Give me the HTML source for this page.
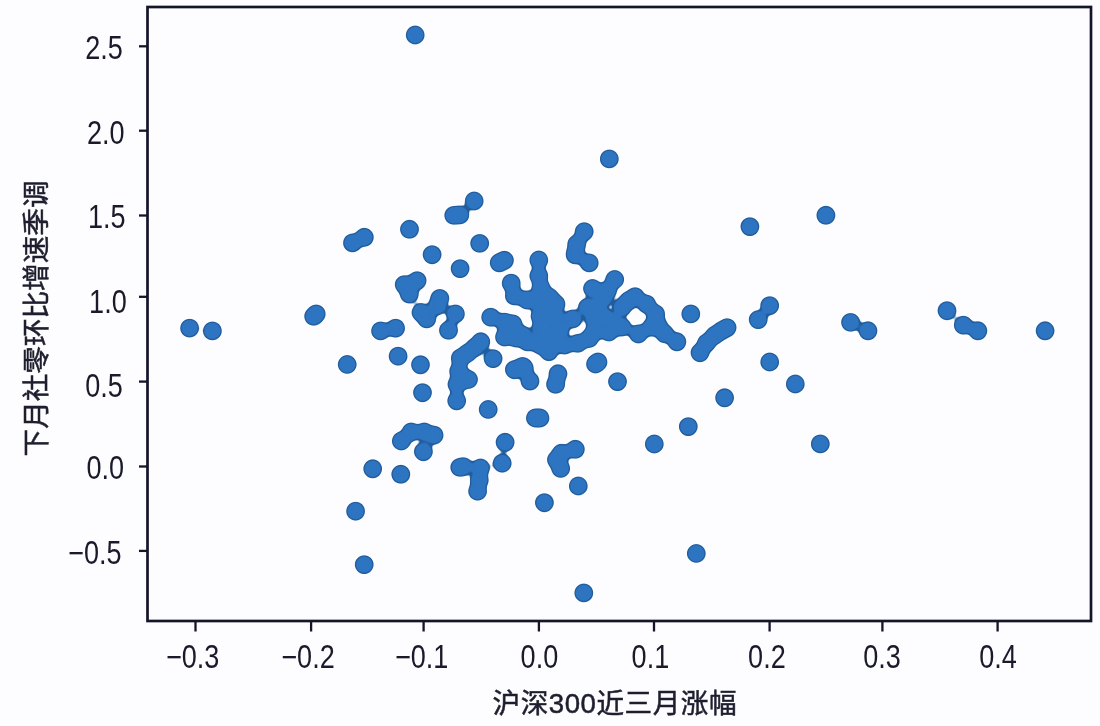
<!DOCTYPE html>
<html lang="zh"><head><meta charset="utf-8"><title>scatter</title>
<style>
html,body{margin:0;padding:0;background:#fdfdff;}
body{width:1100px;height:726px;overflow:hidden;}
svg{display:block}
.t text{font-family:"Liberation Sans","Noto Sans CJK SC",sans-serif;font-size:32.6px;fill:#1a1a2a;}
.l{font-family:"Liberation Sans","Noto Sans CJK SC",sans-serif;font-size:27.6px;fill:#1e1e2e;stroke:#1e1e2e;stroke-width:0.5px;}
</style></head><body>
<svg width="1100" height="726" viewBox="0 0 1100 726">
<rect width="1100" height="726" fill="#fdfdff"/>
<defs><filter id="goo" x="0" y="0" width="1100" height="726" filterUnits="userSpaceOnUse" color-interpolation-filters="sRGB"><feGaussianBlur stdDeviation="2.2"/><feComponentTransfer><feFuncA type="linear" slope="6" intercept="-2.5"/></feComponentTransfer></filter></defs>
<g fill="#215d9d" filter="url(#goo)"><circle cx="415.2" cy="35.0" r="9.7"/><circle cx="609.3" cy="158.9" r="9.7"/><circle cx="474.2" cy="201.0" r="9.7"/><circle cx="453.8" cy="215.4" r="9.7"/><circle cx="459.8" cy="214.9" r="9.7"/><circle cx="409.5" cy="229.3" r="9.7"/><circle cx="479.7" cy="243.4" r="9.7"/><circle cx="432.1" cy="254.7" r="9.7"/><circle cx="460.1" cy="268.6" r="9.7"/><circle cx="499.2" cy="262.8" r="9.7"/><circle cx="504.4" cy="260.3" r="9.7"/><circle cx="538.8" cy="260.0" r="9.7"/><circle cx="538.8" cy="275.8" r="9.7"/><circle cx="584.2" cy="231.6" r="9.7"/><circle cx="576.7" cy="244.1" r="9.7"/><circle cx="575.4" cy="252.9" r="9.7"/><circle cx="589.2" cy="262.9" r="9.7"/><circle cx="614.7" cy="279.5" r="9.7"/><circle cx="352.5" cy="242.9" r="9.7"/><circle cx="364.3" cy="237.3" r="9.7"/><circle cx="749.9" cy="226.6" r="9.7"/><circle cx="825.9" cy="215.3" r="9.7"/><circle cx="189.6" cy="328.1" r="9.7"/><circle cx="212.4" cy="330.9" r="9.7"/><circle cx="313.7" cy="316.4" r="9.7"/><circle cx="316.2" cy="313.9" r="9.7"/><circle cx="347.2" cy="364.5" r="9.7"/><circle cx="380.6" cy="330.9" r="9.7"/><circle cx="395.6" cy="328.2" r="9.7"/><circle cx="398.1" cy="356.2" r="9.7"/><circle cx="420.5" cy="364.8" r="9.7"/><circle cx="422.5" cy="392.7" r="9.7"/><circle cx="404.2" cy="284.6" r="9.7"/><circle cx="417.1" cy="280.6" r="9.7"/><circle cx="409.3" cy="294.1" r="9.7"/><circle cx="421.0" cy="312.5" r="9.7"/><circle cx="426.7" cy="318.9" r="9.7"/><circle cx="439.8" cy="298.4" r="9.7"/><circle cx="437.4" cy="305.7" r="9.7"/><circle cx="455.4" cy="313.9" r="9.7"/><circle cx="448.5" cy="330.3" r="9.7"/><circle cx="511.2" cy="283.2" r="9.7"/><circle cx="514.4" cy="295.9" r="9.7"/><circle cx="490.7" cy="317.2" r="9.7"/><circle cx="504.6" cy="322.1" r="9.7"/><circle cx="511.1" cy="332.0" r="9.7"/><circle cx="480.8" cy="341.8" r="9.7"/><circle cx="474.6" cy="347.6" r="9.7"/><circle cx="467.0" cy="353.5" r="9.7"/><circle cx="493.1" cy="358.6" r="9.7"/><circle cx="522.6" cy="366.4" r="9.7"/><circle cx="575.2" cy="254.9" r="9.7"/><circle cx="592.5" cy="288.5" r="9.7"/><circle cx="690.8" cy="313.9" r="9.7"/><circle cx="676.9" cy="341.8" r="9.7"/><circle cx="635.1" cy="296.7" r="9.7"/><circle cx="646.6" cy="304.1" r="9.7"/><circle cx="655.6" cy="313.9" r="9.7"/><circle cx="658.0" cy="325.4" r="9.7"/><circle cx="664.6" cy="333.6" r="9.7"/><circle cx="460.3" cy="358.2" r="9.7"/><circle cx="458.7" cy="371.3" r="9.7"/><circle cx="468.5" cy="379.5" r="9.7"/><circle cx="457.0" cy="384.4" r="9.7"/><circle cx="456.7" cy="400.8" r="9.7"/><circle cx="514.4" cy="369.7" r="9.7"/><circle cx="524.3" cy="368.0" r="9.7"/><circle cx="530.0" cy="381.1" r="9.7"/><circle cx="488.2" cy="409.5" r="9.7"/><circle cx="535.4" cy="418.0" r="9.7"/><circle cx="540.0" cy="418.0" r="9.7"/><circle cx="505.1" cy="442.3" r="9.7"/><circle cx="502.2" cy="463.2" r="9.7"/><circle cx="401.3" cy="441.0" r="9.7"/><circle cx="411.1" cy="432.0" r="9.7"/><circle cx="424.3" cy="432.0" r="9.7"/><circle cx="434.1" cy="435.2" r="9.7"/><circle cx="423.4" cy="451.7" r="9.7"/><circle cx="459.8" cy="467.4" r="9.7"/><circle cx="463.4" cy="466.6" r="9.7"/><circle cx="480.5" cy="468.0" r="9.7"/><circle cx="400.8" cy="474.3" r="9.7"/><circle cx="548.9" cy="351.6" r="9.7"/><circle cx="595.5" cy="364.0" r="9.7"/><circle cx="598.0" cy="362.0" r="9.7"/><circle cx="558.0" cy="373.8" r="9.7"/><circle cx="555.6" cy="384.4" r="9.7"/><circle cx="617.5" cy="381.6" r="9.7"/><circle cx="688.3" cy="426.6" r="9.7"/><circle cx="654.3" cy="444.0" r="9.7"/><circle cx="575.3" cy="449.3" r="9.7"/><circle cx="561.3" cy="453.3" r="9.7"/><circle cx="556.4" cy="459.8" r="9.7"/><circle cx="560.7" cy="468.5" r="9.7"/><circle cx="700.0" cy="352.7" r="9.7"/><circle cx="706.5" cy="343.0" r="9.7"/><circle cx="714.5" cy="335.5" r="9.7"/><circle cx="721.3" cy="330.9" r="9.7"/><circle cx="727.1" cy="327.6" r="9.7"/><circle cx="758.2" cy="319.6" r="9.7"/><circle cx="769.7" cy="305.6" r="9.7"/><circle cx="769.7" cy="362.0" r="9.7"/><circle cx="795.3" cy="384.0" r="9.7"/><circle cx="724.6" cy="397.8" r="9.7"/><circle cx="820.3" cy="443.9" r="9.7"/><circle cx="850.6" cy="322.4" r="9.7"/><circle cx="868.0" cy="330.8" r="9.7"/><circle cx="947.0" cy="310.7" r="9.7"/><circle cx="963.3" cy="325.2" r="9.7"/><circle cx="977.9" cy="330.8" r="9.7"/><circle cx="1045.1" cy="330.8" r="9.7"/><circle cx="372.7" cy="468.8" r="9.7"/><circle cx="355.6" cy="511.2" r="9.7"/><circle cx="364.2" cy="564.6" r="9.7"/><circle cx="479.3" cy="480.0" r="9.7"/><circle cx="477.6" cy="491.2" r="9.7"/><circle cx="544.4" cy="502.7" r="9.7"/><circle cx="578.3" cy="486.0" r="9.7"/><circle cx="583.8" cy="592.9" r="9.7"/><circle cx="696.3" cy="553.5" r="9.7"/><circle cx="549.8" cy="297.5" r="9.7"/><circle cx="556.0" cy="304.0" r="9.7"/><circle cx="549.8" cy="318.9" r="9.7"/><circle cx="549.8" cy="335.2" r="9.7"/><circle cx="549.8" cy="346.7" r="9.7"/><circle cx="564.6" cy="345.1" r="9.7"/><circle cx="577.7" cy="343.4" r="9.7"/><circle cx="589.2" cy="338.5" r="9.7"/><circle cx="572.8" cy="318.9" r="9.7"/><circle cx="587.5" cy="307.4" r="9.7"/><circle cx="594.1" cy="318.9" r="9.7"/><circle cx="594.1" cy="332.0" r="9.7"/><circle cx="603.5" cy="298.0" r="9.7"/><circle cx="604.0" cy="317.0" r="9.7"/><circle cx="541.0" cy="288.0" r="9.7"/><circle cx="607.5" cy="290.5" r="9.7"/><circle cx="597.0" cy="308.0" r="9.7"/><circle cx="608.9" cy="332.0" r="9.7"/><circle cx="622.0" cy="307.4" r="9.7"/><circle cx="622.0" cy="327.0" r="9.7"/><circle cx="628.5" cy="300.8" r="9.7"/><circle cx="638.4" cy="334.0" r="9.7"/><circle cx="651.5" cy="327.0" r="9.7"/><circle cx="535.0" cy="300.0" r="9.7"/><circle cx="541.0" cy="328.0" r="9.7"/><circle cx="504.5" cy="337.0" r="9.7"/><circle cx="516.0" cy="338.0" r="9.7"/><circle cx="513.0" cy="324.0" r="9.7"/><circle cx="540.0" cy="316.0" r="9.7"/><circle cx="545.0" cy="308.0" r="9.7"/><circle cx="556.0" cy="318.0" r="9.7"/><circle cx="558.0" cy="340.0" r="9.7"/><circle cx="542.0" cy="338.0" r="9.7"/><circle cx="522.6" cy="335.2" r="9.7"/><circle cx="527.5" cy="341.8" r="9.7"/><circle cx="540.0" cy="345.0" r="9.7"/><circle cx="527.0" cy="300.0" r="9.7"/><circle cx="560.0" cy="330.0" r="9.7"/><circle cx="612.0" cy="322.0" r="9.7"/></g>
<g fill="#2d74c1" filter="url(#goo)"><circle cx="415.2" cy="35.0" r="8.399999999999999"/><circle cx="609.3" cy="158.9" r="8.399999999999999"/><circle cx="474.2" cy="201.0" r="8.399999999999999"/><circle cx="453.8" cy="215.4" r="8.399999999999999"/><circle cx="459.8" cy="214.9" r="8.399999999999999"/><circle cx="409.5" cy="229.3" r="8.399999999999999"/><circle cx="479.7" cy="243.4" r="8.399999999999999"/><circle cx="432.1" cy="254.7" r="8.399999999999999"/><circle cx="460.1" cy="268.6" r="8.399999999999999"/><circle cx="499.2" cy="262.8" r="8.399999999999999"/><circle cx="504.4" cy="260.3" r="8.399999999999999"/><circle cx="538.8" cy="260.0" r="8.399999999999999"/><circle cx="538.8" cy="275.8" r="8.399999999999999"/><circle cx="584.2" cy="231.6" r="8.399999999999999"/><circle cx="576.7" cy="244.1" r="8.399999999999999"/><circle cx="575.4" cy="252.9" r="8.399999999999999"/><circle cx="589.2" cy="262.9" r="8.399999999999999"/><circle cx="614.7" cy="279.5" r="8.399999999999999"/><circle cx="352.5" cy="242.9" r="8.399999999999999"/><circle cx="364.3" cy="237.3" r="8.399999999999999"/><circle cx="749.9" cy="226.6" r="8.399999999999999"/><circle cx="825.9" cy="215.3" r="8.399999999999999"/><circle cx="189.6" cy="328.1" r="8.399999999999999"/><circle cx="212.4" cy="330.9" r="8.399999999999999"/><circle cx="313.7" cy="316.4" r="8.399999999999999"/><circle cx="316.2" cy="313.9" r="8.399999999999999"/><circle cx="347.2" cy="364.5" r="8.399999999999999"/><circle cx="380.6" cy="330.9" r="8.399999999999999"/><circle cx="395.6" cy="328.2" r="8.399999999999999"/><circle cx="398.1" cy="356.2" r="8.399999999999999"/><circle cx="420.5" cy="364.8" r="8.399999999999999"/><circle cx="422.5" cy="392.7" r="8.399999999999999"/><circle cx="404.2" cy="284.6" r="8.399999999999999"/><circle cx="417.1" cy="280.6" r="8.399999999999999"/><circle cx="409.3" cy="294.1" r="8.399999999999999"/><circle cx="421.0" cy="312.5" r="8.399999999999999"/><circle cx="426.7" cy="318.9" r="8.399999999999999"/><circle cx="439.8" cy="298.4" r="8.399999999999999"/><circle cx="437.4" cy="305.7" r="8.399999999999999"/><circle cx="455.4" cy="313.9" r="8.399999999999999"/><circle cx="448.5" cy="330.3" r="8.399999999999999"/><circle cx="511.2" cy="283.2" r="8.399999999999999"/><circle cx="514.4" cy="295.9" r="8.399999999999999"/><circle cx="490.7" cy="317.2" r="8.399999999999999"/><circle cx="504.6" cy="322.1" r="8.399999999999999"/><circle cx="511.1" cy="332.0" r="8.399999999999999"/><circle cx="480.8" cy="341.8" r="8.399999999999999"/><circle cx="474.6" cy="347.6" r="8.399999999999999"/><circle cx="467.0" cy="353.5" r="8.399999999999999"/><circle cx="493.1" cy="358.6" r="8.399999999999999"/><circle cx="522.6" cy="366.4" r="8.399999999999999"/><circle cx="575.2" cy="254.9" r="8.399999999999999"/><circle cx="592.5" cy="288.5" r="8.399999999999999"/><circle cx="690.8" cy="313.9" r="8.399999999999999"/><circle cx="676.9" cy="341.8" r="8.399999999999999"/><circle cx="635.1" cy="296.7" r="8.399999999999999"/><circle cx="646.6" cy="304.1" r="8.399999999999999"/><circle cx="655.6" cy="313.9" r="8.399999999999999"/><circle cx="658.0" cy="325.4" r="8.399999999999999"/><circle cx="664.6" cy="333.6" r="8.399999999999999"/><circle cx="460.3" cy="358.2" r="8.399999999999999"/><circle cx="458.7" cy="371.3" r="8.399999999999999"/><circle cx="468.5" cy="379.5" r="8.399999999999999"/><circle cx="457.0" cy="384.4" r="8.399999999999999"/><circle cx="456.7" cy="400.8" r="8.399999999999999"/><circle cx="514.4" cy="369.7" r="8.399999999999999"/><circle cx="524.3" cy="368.0" r="8.399999999999999"/><circle cx="530.0" cy="381.1" r="8.399999999999999"/><circle cx="488.2" cy="409.5" r="8.399999999999999"/><circle cx="535.4" cy="418.0" r="8.399999999999999"/><circle cx="540.0" cy="418.0" r="8.399999999999999"/><circle cx="505.1" cy="442.3" r="8.399999999999999"/><circle cx="502.2" cy="463.2" r="8.399999999999999"/><circle cx="401.3" cy="441.0" r="8.399999999999999"/><circle cx="411.1" cy="432.0" r="8.399999999999999"/><circle cx="424.3" cy="432.0" r="8.399999999999999"/><circle cx="434.1" cy="435.2" r="8.399999999999999"/><circle cx="423.4" cy="451.7" r="8.399999999999999"/><circle cx="459.8" cy="467.4" r="8.399999999999999"/><circle cx="463.4" cy="466.6" r="8.399999999999999"/><circle cx="480.5" cy="468.0" r="8.399999999999999"/><circle cx="400.8" cy="474.3" r="8.399999999999999"/><circle cx="548.9" cy="351.6" r="8.399999999999999"/><circle cx="595.5" cy="364.0" r="8.399999999999999"/><circle cx="598.0" cy="362.0" r="8.399999999999999"/><circle cx="558.0" cy="373.8" r="8.399999999999999"/><circle cx="555.6" cy="384.4" r="8.399999999999999"/><circle cx="617.5" cy="381.6" r="8.399999999999999"/><circle cx="688.3" cy="426.6" r="8.399999999999999"/><circle cx="654.3" cy="444.0" r="8.399999999999999"/><circle cx="575.3" cy="449.3" r="8.399999999999999"/><circle cx="561.3" cy="453.3" r="8.399999999999999"/><circle cx="556.4" cy="459.8" r="8.399999999999999"/><circle cx="560.7" cy="468.5" r="8.399999999999999"/><circle cx="700.0" cy="352.7" r="8.399999999999999"/><circle cx="706.5" cy="343.0" r="8.399999999999999"/><circle cx="714.5" cy="335.5" r="8.399999999999999"/><circle cx="721.3" cy="330.9" r="8.399999999999999"/><circle cx="727.1" cy="327.6" r="8.399999999999999"/><circle cx="758.2" cy="319.6" r="8.399999999999999"/><circle cx="769.7" cy="305.6" r="8.399999999999999"/><circle cx="769.7" cy="362.0" r="8.399999999999999"/><circle cx="795.3" cy="384.0" r="8.399999999999999"/><circle cx="724.6" cy="397.8" r="8.399999999999999"/><circle cx="820.3" cy="443.9" r="8.399999999999999"/><circle cx="850.6" cy="322.4" r="8.399999999999999"/><circle cx="868.0" cy="330.8" r="8.399999999999999"/><circle cx="947.0" cy="310.7" r="8.399999999999999"/><circle cx="963.3" cy="325.2" r="8.399999999999999"/><circle cx="977.9" cy="330.8" r="8.399999999999999"/><circle cx="1045.1" cy="330.8" r="8.399999999999999"/><circle cx="372.7" cy="468.8" r="8.399999999999999"/><circle cx="355.6" cy="511.2" r="8.399999999999999"/><circle cx="364.2" cy="564.6" r="8.399999999999999"/><circle cx="479.3" cy="480.0" r="8.399999999999999"/><circle cx="477.6" cy="491.2" r="8.399999999999999"/><circle cx="544.4" cy="502.7" r="8.399999999999999"/><circle cx="578.3" cy="486.0" r="8.399999999999999"/><circle cx="583.8" cy="592.9" r="8.399999999999999"/><circle cx="696.3" cy="553.5" r="8.399999999999999"/><circle cx="549.8" cy="297.5" r="8.399999999999999"/><circle cx="556.0" cy="304.0" r="8.399999999999999"/><circle cx="549.8" cy="318.9" r="8.399999999999999"/><circle cx="549.8" cy="335.2" r="8.399999999999999"/><circle cx="549.8" cy="346.7" r="8.399999999999999"/><circle cx="564.6" cy="345.1" r="8.399999999999999"/><circle cx="577.7" cy="343.4" r="8.399999999999999"/><circle cx="589.2" cy="338.5" r="8.399999999999999"/><circle cx="572.8" cy="318.9" r="8.399999999999999"/><circle cx="587.5" cy="307.4" r="8.399999999999999"/><circle cx="594.1" cy="318.9" r="8.399999999999999"/><circle cx="594.1" cy="332.0" r="8.399999999999999"/><circle cx="603.5" cy="298.0" r="8.399999999999999"/><circle cx="604.0" cy="317.0" r="8.399999999999999"/><circle cx="541.0" cy="288.0" r="8.399999999999999"/><circle cx="607.5" cy="290.5" r="8.399999999999999"/><circle cx="597.0" cy="308.0" r="8.399999999999999"/><circle cx="608.9" cy="332.0" r="8.399999999999999"/><circle cx="622.0" cy="307.4" r="8.399999999999999"/><circle cx="622.0" cy="327.0" r="8.399999999999999"/><circle cx="628.5" cy="300.8" r="8.399999999999999"/><circle cx="638.4" cy="334.0" r="8.399999999999999"/><circle cx="651.5" cy="327.0" r="8.399999999999999"/><circle cx="535.0" cy="300.0" r="8.399999999999999"/><circle cx="541.0" cy="328.0" r="8.399999999999999"/><circle cx="504.5" cy="337.0" r="8.399999999999999"/><circle cx="516.0" cy="338.0" r="8.399999999999999"/><circle cx="513.0" cy="324.0" r="8.399999999999999"/><circle cx="540.0" cy="316.0" r="8.399999999999999"/><circle cx="545.0" cy="308.0" r="8.399999999999999"/><circle cx="556.0" cy="318.0" r="8.399999999999999"/><circle cx="558.0" cy="340.0" r="8.399999999999999"/><circle cx="542.0" cy="338.0" r="8.399999999999999"/><circle cx="522.6" cy="335.2" r="8.399999999999999"/><circle cx="527.5" cy="341.8" r="8.399999999999999"/><circle cx="540.0" cy="345.0" r="8.399999999999999"/><circle cx="527.0" cy="300.0" r="8.399999999999999"/><circle cx="560.0" cy="330.0" r="8.399999999999999"/><circle cx="612.0" cy="322.0" r="8.399999999999999"/></g>
<rect x="147.5" y="7" width="943.5" height="614" fill="none" stroke="#15152a" stroke-width="2.7"/>
<g stroke="#15152a" stroke-width="2.3"><line x1="195.5" y1="621" x2="195.5" y2="631.5"/><line x1="311.1" y1="621" x2="311.1" y2="631.5"/><line x1="423.6" y1="621" x2="423.6" y2="631.5"/><line x1="538.9" y1="621" x2="538.9" y2="631.5"/><line x1="654.0" y1="621" x2="654.0" y2="631.5"/><line x1="769.6" y1="621" x2="769.6" y2="631.5"/><line x1="882.4" y1="621" x2="882.4" y2="631.5"/><line x1="997.6" y1="621" x2="997.6" y2="631.5"/><line x1="139.0" y1="46.3" x2="147.5" y2="46.3"/><line x1="139.0" y1="130.7" x2="147.5" y2="130.7"/><line x1="139.0" y1="215.5" x2="147.5" y2="215.5"/><line x1="139.0" y1="296.8" x2="147.5" y2="296.8"/><line x1="139.0" y1="381.6" x2="147.5" y2="381.6"/><line x1="139.0" y1="466.5" x2="147.5" y2="466.5"/><line x1="139.0" y1="550.9" x2="147.5" y2="550.9"/></g>
<g class="t"><text transform="translate(192.60,668.00) scale(0.83,1)" text-anchor="middle">−0.3</text><text transform="translate(308.00,668.00) scale(0.83,1)" text-anchor="middle">−0.2</text><text transform="translate(421.70,668.00) scale(0.83,1)" text-anchor="middle">−0.1</text><text transform="translate(539.40,668.00) scale(0.83,1)" text-anchor="middle">0.0</text><text transform="translate(650.40,668.00) scale(0.83,1)" text-anchor="middle">0.1</text><text transform="translate(766.90,668.00) scale(0.83,1)" text-anchor="middle">0.2</text><text transform="translate(882.00,668.00) scale(0.83,1)" text-anchor="middle">0.3</text><text transform="translate(998.00,668.00) scale(0.83,1)" text-anchor="middle">0.4</text><text transform="translate(122.90,59.00) scale(0.83,1)" text-anchor="end">2.5</text><text transform="translate(124.60,143.50) scale(0.83,1)" text-anchor="end">2.0</text><text transform="translate(125.50,227.70) scale(0.83,1)" text-anchor="end">1.5</text><text transform="translate(126.70,313.10) scale(0.83,1)" text-anchor="end">1.0</text><text transform="translate(122.90,396.90) scale(0.83,1)" text-anchor="end">0.5</text><text transform="translate(124.10,479.00) scale(0.83,1)" text-anchor="end">0.0</text><text transform="translate(121.50,563.50) scale(0.83,1)" text-anchor="end">−0.5</text></g>
<text class="l" x="614.5" y="713" text-anchor="middle" textLength="244" lengthAdjust="spacing">沪深300近三月涨幅</text>
<text class="l" transform="translate(45.8,318.5) rotate(-90)" text-anchor="middle">下月社零环比增速季调</text>
</svg>
</body></html>
